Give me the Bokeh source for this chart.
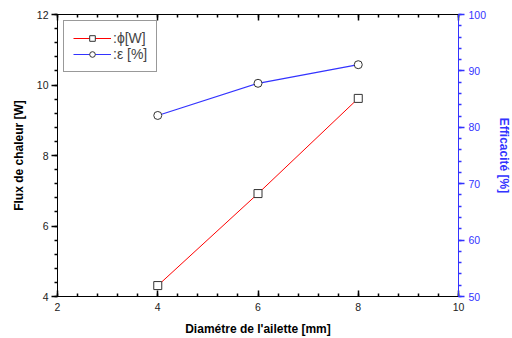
from bokeh.plotting import figure
from bokeh.models import Range1d, LinearAxis, SingleIntervalTicker, Legend, LegendItem
from bokeh.embed import file_html
from bokeh.resources import INLINE

diam = [4, 6, 8]
flux = [4.31, 6.92, 9.62]
eff = [82.1, 87.8, 91.1]

x_tick_step = 2
y_tick_step = 2
y2_tick_step = 10

FONT = "Liberation Sans"
BLUE = "#3333ff"

p = figure(frame_width=401, frame_height=282, output_backend="svg", toolbar_location=None,
           x_range=Range1d(2, 10), y_range=Range1d(4, 12),
           min_border_left=57, min_border_right=10, min_border_top=14, min_border_bottom=10)
p.extra_y_ranges = {"eff": Range1d(50, 100)}
p.xgrid.visible = False
p.ygrid.visible = False
p.outline_line_color = "black"
p.outline_line_width = 1

def style(ax, step, tin, tout, color="black"):
    ax.ticker = SingleIntervalTicker(interval=step, num_minor_ticks=5)
    ax.major_tick_in = tin
    ax.major_tick_out = tout
    ax.minor_tick_in = 3 if tin else 0
    ax.minor_tick_out = 3 if tout else 0
    ax.axis_line_color = color
    ax.major_tick_line_color = color
    ax.minor_tick_line_color = color
    ax.major_tick_line_width = 1.5
    ax.minor_tick_line_width = 1.5
    ax.major_label_text_font = FONT
    ax.major_label_text_font_size = "10.5px"
    ax.major_label_text_color = color if color != "black" else "#222222"
    ax.axis_label_text_font = FONT
    ax.axis_label_text_font_style = "bold"
    ax.axis_label_text_font_size = "12px"
    ax.axis_label_text_color = color

xa = p.xaxis[0]
style(xa, x_tick_step, 6, 0)
xa.axis_label = "Diamétre de l'ailette [mm]"
xa.major_label_standoff = 6
xa.axis_label_standoff = 8

ya = p.yaxis[0]
style(ya, y_tick_step, 0, 6)
ya.axis_label = "Flux de chaleur [W]"
ya.major_label_standoff = 3
ya.axis_label_standoff = 8

top = LinearAxis()
style(top, x_tick_step, 6, 0)
top.major_label_overrides = {t: "" for t in [2, 4, 6, 8, 10]}
top.major_label_text_font_size = "1px"
top.major_label_standoff = 0
p.add_layout(top, "above")

right = LinearAxis(y_range_name="eff")
style(right, y2_tick_step, 0, 6, color=BLUE)
right.axis_label = "Efficacité [%]"
right.major_label_standoff = 4
right.axis_label_standoff = 8
p.add_layout(right, "right")

l1 = p.line(diam, flux, line_color="red", line_width=1)
m1 = p.scatter(diam, flux, marker="square", size=8, fill_color="white", line_color="#333333")
l2 = p.line(diam, eff, line_color=BLUE, line_width=1.2, y_range_name="eff")
m2 = p.scatter(diam, eff, marker="circle", size=8, fill_color="white", line_color="#333333",
               y_range_name="eff")

legend = Legend(items=[LegendItem(label=":ϕ[W]", renderers=[l1, m1]),
                       LegendItem(label=":ε [%]", renderers=[l2, m2])],
                location="top_left")
legend.border_line_color = "#333333"
legend.border_line_width = 1
legend.label_text_font = FONT
legend.label_text_font_size = "14px"
legend.glyph_width = 38
legend.glyph_height = 14
legend.label_height = 14
legend.spacing = 0
legend.padding = 9
legend.margin = 6
legend.label_standoff = 2
p.add_layout(legend)

open("out.html", "w").write(file_html(p, INLINE))
